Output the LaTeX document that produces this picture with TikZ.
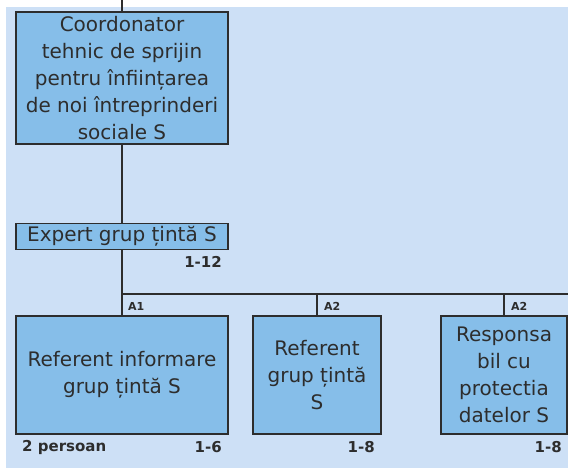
\documentclass[tikz,border=0pt]{standalone}
\usepackage{fontspec}
\setmainfont{DejaVu Sans}
\usepackage{tikz}
\usetikzlibrary{positioning}

\definecolor{paper}{RGB}{205,224,246}
\definecolor{boxblue}{RGB}{134,190,233}
\definecolor{ink}{RGB}{45,45,45}

\tikzset{
	unitbox/.style={draw=ink, line width=1.6pt, fill=boxblue, text=ink, align=center,
		inner sep=0pt, font=\fontsize{20}{27}\selectfont},
	grouplab/.style={text=ink, anchor=west, inner sep=0pt, font=\bfseries\fontsize{11}{13}\selectfont},
	countlab/.style={text=ink, inner sep=0pt, font=\bfseries\fontsize{15}{17}\selectfont},
	link/.style={draw=ink, line width=1.6pt}
}

\begin{document}
\begin{tikzpicture}[x=1pt,y=-1pt]
		\useasboundingbox (0,0) rectangle (568,468);
		\fill[white] (0,0) rectangle (568,468);
		\fill[paper] (6,7) rectangle (568,468);
		% top unit
		\coordinate (topend) at (122,0);
		\node[unitbox, minimum width=212pt, minimum height=132pt] (coord) at (122,78)
			{Coordonator\\tehnic de sprijin\\pentru înființarea\\de noi întreprinderi\\sociale S};
		\node[unitbox, minimum width=212pt, minimum height=26pt] (expert) at (122,236.5)
			{Expert grup țintă S};
		\node[countlab, anchor=east] (expcount) at (222,262) {1-12};
		% bus
		\coordinate (bus) at (122,294);
		\coordinate (busend) at (568,294);
		% lower units
		\node[unitbox, minimum width=212pt, minimum height=118pt] (refinfo) at (122,375)
			{Referent informare\\grup țintă S};
		\node[unitbox, minimum width=128pt, minimum height=118pt] (refgrup) at (317,375)
			{Referent\\grup țintă\\S};
		\node[unitbox, minimum width=126pt, minimum height=118pt] (resp) at (504,375)
			{Responsa\\bil cu\\protectia\\datelor S};
		% connectors
		\draw[link] (topend) -- (coord.north);
		\draw[link] (coord.south) -- (expert.north);
		\draw[link] (expert.south) -- (refinfo.north);
		\draw[link] (bus) -- (busend);
		\draw[link] (refgrup.north |- bus) -- (refgrup.north);
		\draw[link] (resp.north |- bus) -- (resp.north);
		% labels
		\node[grouplab] (labA) at (128,306) {A1};
		\node[grouplab] (labB) at (324,306) {A2};
		\node[grouplab] (labC) at (511,306) {A2};
		\node[countlab, anchor=west] (persons) at (22,447) {2 persoan};
		\node[countlab, anchor=east] (infocount) at (222,447) {1-6};
		\node[countlab, anchor=east] (grupcount) at (375,447) {1-8};
		\node[countlab, anchor=east] (respcount) at (562,447) {1-8};
\end{tikzpicture}
\end{document}
